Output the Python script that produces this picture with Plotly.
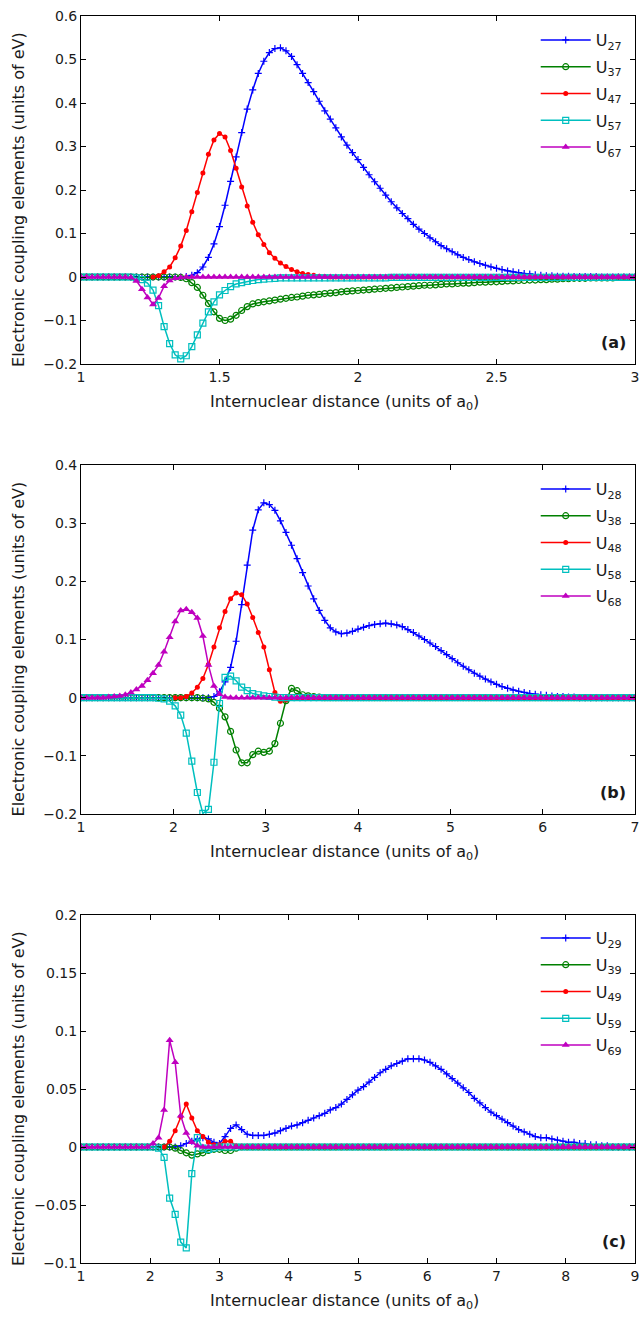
import numpy as np
import plotly.graph_objects as go

# ---------------- data ----------------
# sampling grids (101 points each panel)
x_a = np.round(np.linspace(1.0, 3.0, 101), 4)
x_b = np.round(np.linspace(1.0, 7.0, 101), 4)
x_c = np.round(np.linspace(1.0, 9.0, 101), 4)

N = None

# Panel (a)
U27 = [0]*19 + [0.001,
    0.004, 0.010, 0.023, 0.045, 0.076, 0.116, 0.165, 0.220, 0.276, 0.332,
    0.386, 0.430, 0.468, 0.496, 0.516, 0.525, 0.527, 0.520, 0.507, 0.488,
    0.468, 0.447, 0.426, 0.404, 0.382, 0.363, 0.343, 0.322, 0.303, 0.286,
    0.270, 0.252, 0.235, 0.219, 0.204, 0.188, 0.173, 0.159, 0.146, 0.134,
    0.121, 0.110, 0.100, 0.090, 0.081, 0.072, 0.065, 0.058, 0.051, 0.045,
    0.040, 0.035, 0.031, 0.027, 0.023, 0.020, 0.017, 0.014, 0.012, 0.010,
    0.008, 0.007, 0.005, 0.004, 0.003, 0.003,
    0.002, 0.002, 0.002, 0.001, 0.001, 0.001, 0.001, 0.001, 0, 0, 0, 0, 0, 0, 0]
U37 = [0]*18 + [-0.001, -0.004,
    -0.013, -0.024, -0.042, -0.061, -0.080, -0.095, -0.100, -0.097, -0.088, -0.077,
    -0.068, -0.062, -0.059, -0.057, -0.055, -0.053, -0.051, -0.049, -0.047, -0.046,
    -0.044, -0.042, -0.041, -0.040, -0.038, -0.037, -0.036, -0.034, -0.033, -0.032,
    -0.031, -0.030, -0.029, -0.028, -0.027, -0.026, -0.025, -0.024, -0.023, -0.022,
    -0.021, -0.020, -0.019, -0.019, -0.018, -0.017, -0.016, -0.016, -0.015, -0.014,
    -0.014, -0.013, -0.012, -0.012, -0.011, -0.011, -0.010, -0.009, -0.009, -0.008,
    -0.008, -0.007, -0.007, -0.006, -0.006, -0.005, -0.005, -0.004, -0.004, -0.003,
    -0.003, -0.003, -0.002, -0.002, -0.002, -0.002, -0.002, -0.001, -0.001, -0.001, -0.001]
U47 = [N]*13 + [0.000, 0.003, 0.012, 0.023, 0.044, 0.071, 0.107,
    0.150, 0.194, 0.239, 0.282, 0.315, 0.330, 0.322, 0.291, 0.250, 0.207,
    0.163, 0.126, 0.097, 0.075, 0.056, 0.043, 0.032, 0.024, 0.017, 0.012,
    0.008, 0.006, 0.004, 0.002, 0.001] + [0]*56
U57 = [0]*10 + [-0.002, -0.006, -0.014, -0.030, -0.066, -0.114, -0.153, -0.179, -0.188, -0.181,
    -0.160, -0.133, -0.106, -0.080, -0.057, -0.041, -0.031, -0.022, -0.016, -0.013,
    -0.010, -0.008, -0.006, -0.005, -0.004, -0.003] + [-0.002]*20 + [-0.001]*45
U67 = [0]*9 + [-0.001, -0.009, -0.028, -0.047, -0.063, -0.048, -0.021, -0.008, -0.003, -0.001] + [0]*82

# Panel (b)
U28 = [0]*23 + [0.000, 0.002, 0.010, 0.027, 0.052, 0.097, 0.160,
    0.228, 0.288, 0.323, 0.335, 0.332, 0.322, 0.304, 0.284, 0.262, 0.239,
    0.215, 0.192, 0.170, 0.150, 0.133, 0.120, 0.113, 0.110, 0.111, 0.114,
    0.118, 0.121, 0.124, 0.126, 0.127, 0.128, 0.127, 0.125, 0.122, 0.117,
    0.112, 0.106, 0.100, 0.094, 0.088, 0.081, 0.074, 0.067, 0.060, 0.054,
    0.048, 0.042, 0.037, 0.032, 0.027, 0.023, 0.019, 0.016, 0.013, 0.011,
    0.009, 0.007, 0.006, 0.005, 0.004, 0.003, 0.002, 0.002, 0.001, 0.001] + [0]*11
U38 = [0]*22 + [-0.001, -0.002, -0.008, -0.018, -0.033, -0.058, -0.090, -0.112,
    -0.112, -0.098, -0.092, -0.094, -0.092, -0.079, -0.044, -0.005, 0.016, 0.012,
    0.005, 0.003, 0.002, 0.001] + [0]*57
U48 = [N]*17 + [0.000, 0.000, 0.002,
    0.008, 0.018, 0.033, 0.057, 0.087, 0.120, 0.148, 0.170, 0.180, 0.177,
    0.161, 0.138, 0.112, 0.087, 0.048, 0.009, -0.006, -0.004] + [0]*63
U58 = [0]*14 + [-0.001, -0.002, -0.006, -0.014, -0.030, -0.061,
    -0.109, -0.163, -0.199, -0.192, -0.111, -0.010, 0.035, 0.037, 0.029, 0.018,
    0.012, 0.007, 0.005, 0.003, 0.002, 0.001] + [0]*65
U68 = [0]*5 + [0.001, 0.002, 0.003, 0.005, 0.009,
    0.014, 0.020, 0.030, 0.042, 0.056, 0.079, 0.104, 0.131, 0.150, 0.152,
    0.147, 0.137, 0.106, 0.056, 0.020, 0.006, 0.001] + [0]*74

# Panel (c)
U29 = [0]*18 + [0.001, 0.003,
    0.005, 0.007, 0.008, 0.007, 0.004, 0.003, 0.009, 0.016, 0.019, 0.015,
    0.011, 0.010, 0.010, 0.010, 0.011, 0.012, 0.014, 0.016, 0.018, 0.019,
    0.021, 0.023, 0.025, 0.027, 0.029, 0.032, 0.034, 0.037, 0.041, 0.045,
    0.049, 0.052, 0.056, 0.060, 0.064, 0.067, 0.070, 0.072, 0.074, 0.076,
    0.076, 0.076, 0.075, 0.073, 0.070, 0.067, 0.063, 0.059, 0.055, 0.051,
    0.047, 0.042, 0.038, 0.034, 0.030, 0.027, 0.024, 0.021, 0.018, 0.015,
    0.013, 0.011, 0.009, 0.008, 0.008, 0.007, 0.006, 0.005, 0.004, 0.004,
    0.003, 0.003, 0.002, 0.002, 0.001, 0.001] + [0]*5
U39 = [0]*17 + [-0.001, -0.003, -0.005,
    -0.007, -0.006, -0.005, -0.003, -0.002, -0.002, -0.003, -0.003, -0.001] + [0]*72
U49 = [N]*15 + [0.000, 0.005, 0.014, 0.026, 0.037,
    0.025, 0.014, 0.009, 0.004, 0.002, 0.002, 0.005, 0.005, 0.001] + [0]*72
U59 = [0]*14 + [-0.001, -0.009, -0.044, -0.058, -0.082, -0.087,
    -0.023, 0.008, -0.001, -0.002, -0.001] + [0]*76
U69 = [0]*13 + [0.003, 0.008, 0.032, 0.092, 0.073, 0.027, 0.012,
    0.004, 0.001] + [0]*79

panels = [
    ("a", x_a, [("27", U27), ("37", U37), ("47", U47), ("57", U57), ("67", U67)]),
    ("b", x_b, [("28", U28), ("38", U38), ("48", U48), ("58", U58), ("68", U68)]),
    ("c", x_c, [("29", U29), ("39", U39), ("49", U49), ("59", U59), ("69", U69)]),
]
for _, xs, ss in panels:
    for name, s in ss:
        assert len(s) == len(xs), (name, len(s))

XTITLE = "Internuclear distance (units of a<sub>0</sub>)"
YTITLE = "Electronic coupling elements (units of eV)"

# ---------------- styling ----------------
FONT = "DejaVu Sans, Liberation Sans, sans-serif"
TXT = "#1a1a1a"
styles = [
    dict(color="#0000FF", symbol="cross-thin", size=5, lw=1.2),
    dict(color="#008000", symbol="circle-open", size=6, lw=1.2),
    dict(color="#FF0000", symbol="circle", size=5, lw=0),
    dict(color="#00BFBF", symbol="square-open", size=6, lw=1.2),
    dict(color="#BF00BF", symbol="triangle-up", size=7, lw=0),
]

# layout geometry (pixel-derived)
H = 1317.0
T, B = 16, 54
PH = H - T - B
PW = 643 - 81 - 4
def dom(top_px, bot_px):
    return [1 - (bot_px - T) / PH, 1 - (top_px - T) / PH]

domains = [dom(16, 364), dom(465, 814), dom(915, 1263)]
xranges = [[1, 3], [1, 7], [1, 9]]
xdticks = [0.5, 1, 1]
yranges = [[-0.2, 0.6], [-0.2, 0.4], [-0.1, 0.2]]
ydticks = [0.1, 0.1, 0.05]

fig = go.Figure()

for p, (lab, xs, ss) in enumerate(panels):
    xa = "x" if p == 0 else f"x{p+1}"
    ya = "y" if p == 0 else f"y{p+1}"
    lg = "legend" if p == 0 else f"legend{p+1}"
    for k, (name, s) in enumerate(ss):
        st = styles[k]
        fig.add_trace(go.Scatter(
            x=xs, y=s, mode="lines+markers", xaxis=xa, yaxis=ya,
            name=f"U<sub>{name}</sub>", legend=lg, legendgroup=f"{lab}{k}",
            line=dict(color=st["color"], width=1.5),
            marker=dict(symbol=st["symbol"], size=st["size"], color=st["color"],
                        line=dict(color=st["color"], width=st["lw"])),
            connectgaps=False,
        ))

layout = dict(
    width=643, height=1317,
    margin=dict(l=81, r=4, t=T, b=B),
    paper_bgcolor="white", plot_bgcolor="white",
    font=dict(family=FONT, size=14, color=TXT),
)
for p in range(3):
    xk = "xaxis" if p == 0 else f"xaxis{p+1}"
    yk = "yaxis" if p == 0 else f"yaxis{p+1}"
    ya = "y" if p == 0 else f"y{p+1}"
    xa = "x" if p == 0 else f"x{p+1}"
    layout[xk] = dict(
        domain=[0, 1], anchor=ya, range=xranges[p], dtick=xdticks[p], tick0=1,
        showgrid=False, zeroline=False, showline=True, linecolor="black", linewidth=1,
        mirror="ticks", ticks="inside", ticklen=5, tickcolor="black",
        tickfont=dict(size=14, family=FONT, color=TXT),
        ticklabeloverflow="allow",
    )
    layout[yk] = dict(
        domain=domains[p], anchor=xa, range=yranges[p], dtick=ydticks[p],
        showgrid=False, zeroline=False, showline=True, linecolor="black", linewidth=1,
        mirror="ticks", ticks="inside", ticklen=5, tickcolor="black",
        tickfont=dict(size=14, family=FONT, color=TXT),
        ticklabeloverflow="allow",
    )
    lg = "legend" if p == 0 else f"legend{p+1}"
    top_px = [23, 472, 921][p]
    layout[lg] = dict(
        x=(539 - 81) / PW, xanchor="left",
        y=1 - (top_px - T) / PH, yanchor="top",
        bgcolor="rgba(0,0,0,0)", borderwidth=0,
        font=dict(size=16, family=FONT, color=TXT),
        tracegroupgap=3, itemwidth=50,
    )

fig.update_layout(**layout)

for p, lab in enumerate(["a", "b", "c"]):
    xa = "x" if p == 0 else f"x{p+1}"
    ya = "y" if p == 0 else f"y{p+1}"
    fig.add_annotation(
        text=f"<b>({lab})</b>", xref=f"{xa} domain", yref=f"{ya} domain",
        x=0.988, y=0.063, xanchor="right", yanchor="middle", showarrow=False,
        font=dict(size=16, family=FONT, color=TXT),
    )
    # x-axis title
    fig.add_annotation(
        text=XTITLE, xref=f"{xa} domain", yref=f"{ya} domain",
        x=(346 - 81) / PW, y=-38.5 / 348, xanchor="center", yanchor="middle",
        showarrow=False, font=dict(size=16, family=FONT, color=TXT),
    )
    # y-axis title
    fig.add_annotation(
        text=YTITLE, xref="paper", yref=f"{ya} domain",
        x=(18 - 81) / PW, y=0.5 - 9.5 / 348, xanchor="center", yanchor="middle",
        textangle=-90, showarrow=False, font=dict(size=16, family=FONT, color=TXT),
    )

fig.write_html("out.html")
